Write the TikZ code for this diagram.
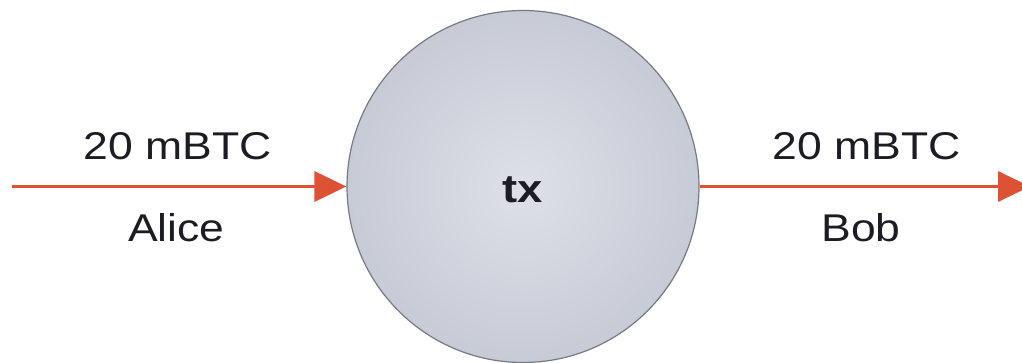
\documentclass[tikz,border=0pt]{standalone}
\usepackage{fontspec}
\setmainfont{Liberation Sans}[FakeStretch=1.15]
\usetikzlibrary{arrows.meta}
\definecolor{flow}{RGB}{221,82,52}
\definecolor{txin}{RGB}{222,224,231}
\definecolor{txout}{RGB}{199,203,214}
\definecolor{txrim}{RGB}{118,122,132}
\definecolor{ink}{RGB}{28,28,36}
\begin{document}
\begin{tikzpicture}[x=1pt,y=-1pt,
  txnode/.style={circle,minimum size=352pt,inner sep=0pt,draw=txrim,line width=1.2pt,
    shading=radial,inner color=txin,outer color=txout},
  payment/.style={draw=flow,line width=3.5pt,-{Triangle[length=32pt,width=30pt]}},
  lbl/.style={anchor=base,text=ink,inner sep=0pt,font=\fontsize{38.7}{46}\selectfont}]
\useasboundingbox (0,0) rectangle (1022,363);
% the transaction
\node[txnode] (tx) at (523,186.5) {};
\node[lbl,font=\bfseries\fontsize{39.5}{47}\selectfont] (txlabel) at (522.5,203) {tx};
% input and output
\coordinate (src) at (12,186.5);
\coordinate (dst) at (1030,186.5);
\draw[payment] (src) -- (tx.west);
\draw[payment] (tx.east) -- (dst);
% amounts and owners
\node[lbl] (inamt) at (177.5,160) {20 mBTC};
\node[lbl] (inowner) at (176.5,242) {Alice};
\node[lbl] (outamt) at (866.5,160) {20 mBTC};
\node[lbl] (outowner) at (861,242) {Bob};
\end{tikzpicture}
\end{document}
